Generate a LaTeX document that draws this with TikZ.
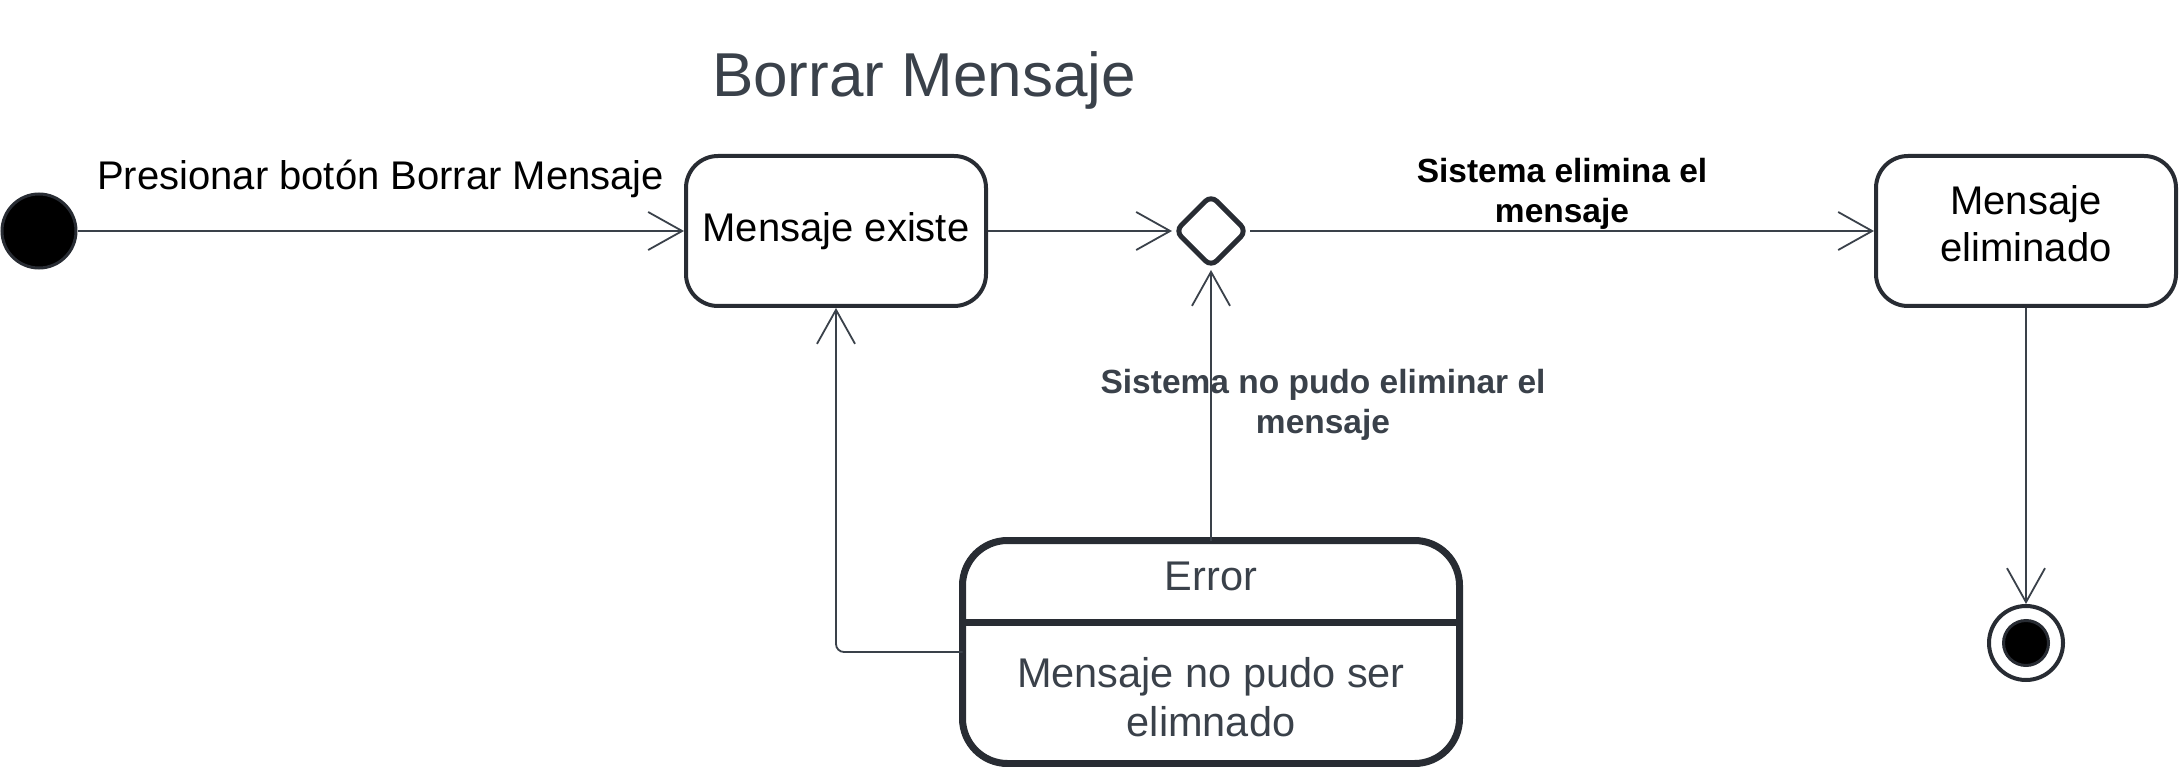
\documentclass[tikz,border=0pt]{standalone}
\usepackage{fontspec}
\setmainfont{Liberation Sans}
\usetikzlibrary{arrows.meta,shapes.geometric}
\definecolor{edgegrey}{HTML}{3A414A}
\definecolor{framegrey}{HTML}{282C33}

\begin{document}
\begin{tikzpicture}[x=1pt,y=-1pt,
	state/.style={draw=framegrey,line width=4pt,rounded corners=32pt,fill=white,
		minimum width=300pt,minimum height=150pt,inner sep=0pt,align=center,
		font=\fontsize{40}{47}\selectfont},
	errstate/.style={draw=framegrey,line width=7pt,rounded corners=45pt,
		minimum width=497pt,minimum height=223pt,outer sep=0pt},
	errtext/.style={text=edgegrey,align=center,font=\fontsize{41.5}{49}\selectfont},
	choice/.style={diamond,draw=framegrey,line width=5pt,rounded corners=8pt,
		minimum width=73pt,minimum height=73pt,inner sep=0pt},
	start/.style={circle,draw=framegrey,line width=3pt,fill=black,minimum size=74pt,inner sep=0pt},
	finish/.style={circle,draw=framegrey,line width=4pt,minimum size=74pt,inner sep=0pt},
	finishdot/.style={circle,draw=framegrey,line width=3pt,fill=black,minimum size=45pt,inner sep=0pt},
	trans/.style={draw=edgegrey,line width=1.8pt,
		-{Straight Barb[length=34pt,width=38pt,line width=1.8pt]}},
	guard/.style={inner sep=0pt,align=center,font=\bfseries\fontsize{33.5}{40}\selectfont}]
	\useasboundingbox (0,0) rectangle (2179,767);
	% Title
	\node[text=edgegrey,anchor=base,font=\fontsize{62}{70}\selectfont] (title) at (924,97) {Borrar Mensaje};
	% States
	\node[start] (init) at (39,231) {};
	\node[state] (exists) at (836,231) {Mensaje existe};
	\node[choice] (check) at (1211,231) {};
	\node[state,text depth=14pt] (deleted) at (2026,231) {Mensaje\\eliminado};
	\node[finish] (final) at (2026,643) {};
	\node[finishdot] (finaldot) at (final) {};
	% Error state with its compartment
	\node[errstate] (error) at (1211,652) {};
	\draw[framegrey,line width=7pt] (error.west |- 0,622) -- (error.east |- 0,622);
	\node[errtext] (errhead) at (1211,576) {Error};
	\node[errtext] (errbody) at (1211,697) {Mensaje no pudo ser\\elimnado};
	% Transitions
	\draw[trans] (init) -- (exists)
		node[midway,anchor=base,yshift=41pt,inner sep=0pt,font=\fontsize{40}{48}\selectfont] (press) {Presionar botón Borrar Mensaje};
	\draw[trans] (exists) -- (check);
	\draw[trans] (check) -- (deleted)
		node[guard,midway,anchor=south,yshift=1pt] (okguard) {Sistema elimina el\\mensaje};
	\draw[trans] (error.north) -- (check.south)
		node[guard,midway,xshift=112pt,text=edgegrey] (failguard) {Sistema no pudo eliminar el\\mensaje};
	\draw[trans,rounded corners=8pt] (error.west) -| (exists.south);
	\draw[trans] (deleted) -- (final);
\end{tikzpicture}
\end{document}
